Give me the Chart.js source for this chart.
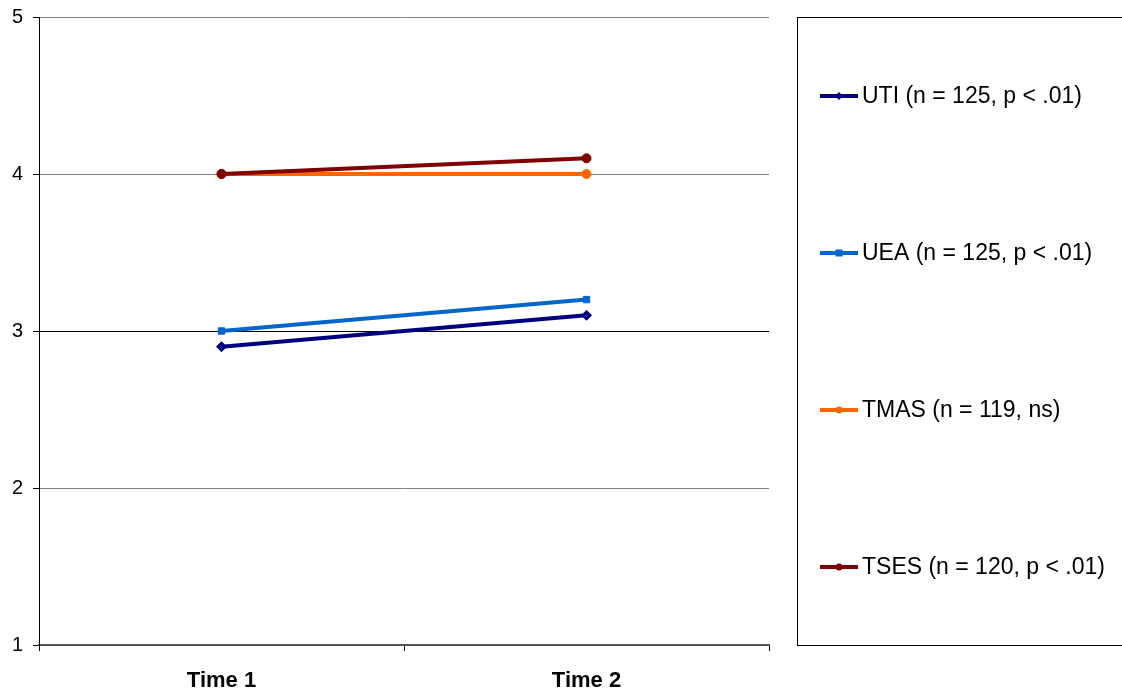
<!DOCTYPE html>
<html lang="en">
<head>
    <meta charset="UTF-8">
    <title>Scores Time 1 vs Time 2</title>
    <script src="https://cdn.jsdelivr.net/npm/chart.js"></script>
    <style>
        body {
            margin: 0;
            background: #ffffff;
        }
        #wrap {
            width: 1122px;
            height: 691px;
        }
    </style>
</head>
<body>
    <div id="wrap"><canvas id="chart"></canvas></div>

    <script>
        const categories = ['Time 1', 'Time 2'];
        const seriesNames = ['UTI (n = 125, p < .01)', 'UEA (n = 125, p < .01)', 'TMAS (n = 119, ns)', 'TSES (n = 120, p < .01)'];
        const utiValues = [2.9, 3.1];
        const ueaValues = [3.0, 3.2];
        const tmasValues = [4.0, 4.0];
        const tsesValues = [4.0, 4.1];
        const yTicks = [1, 2, 3, 4, 5];

        const colors = ['#000080', '#0066CC', '#FF6600', '#800000'];
        const markers = ['rectRot', 'rect', 'circle', 'circle'];
        const allValues = [utiValues, ueaValues, tmasValues, tsesValues];
        const fontFamily = 'Arial, "Liberation Sans", sans-serif';

        // later series sit on top, like the original
        const datasets = seriesNames.map((name, i) => ({
            label: name,
            data: allValues[i],
            order: seriesNames.length - 1 - i,
            borderColor: colors[i],
            backgroundColor: colors[i],
            borderWidth: 4,
            pointStyle: markers[i],
            pointRadius: markers[i] === 'rectRot' ? 5 : 4.5,
            pointBorderWidth: 1,
            tension: 0
        }));

        // legend drawn as a boxed column on the right
        const boxLegend = {
            id: 'boxLegend',
            afterDraw(chart) {
                const ctx = chart.ctx;
                const top = 17, bottom = 645, left = 797;
                const list = seriesNames.map((name, i) => ({ label: name, color: colors[i], style: markers[i] }));
                ctx.save();
                ctx.strokeStyle = '#000000';
                ctx.lineWidth = 1;
                ctx.strokeRect(left + 0.5, top + 0.5, 400, bottom - top);
                const rowH = (bottom - top) / list.length;
                list.forEach((item, i) => {
                    const y = Math.round(top + rowH * (i + 0.5));
                    ctx.strokeStyle = item.color;
                    ctx.lineWidth = 4;
                    ctx.beginPath();
                    ctx.moveTo(820, y);
                    ctx.lineTo(858, y);
                    ctx.stroke();
                    ctx.fillStyle = item.color;
                    ctx.lineWidth = 1;
                    ctx.beginPath();
                    if (item.style === 'rectRot') {
                        ctx.moveTo(839, y - 4); ctx.lineTo(843, y); ctx.lineTo(839, y + 4); ctx.lineTo(835, y);
                    } else if (item.style === 'rect') {
                        ctx.rect(835.5, y - 3.5, 7, 7);
                    } else {
                        ctx.arc(839, y, 3.5, 0, Math.PI * 2);
                    }
                    ctx.closePath();
                    ctx.fill();
                    ctx.fillStyle = '#000000';
                    ctx.font = '23px ' + fontFamily;
                    ctx.textBaseline = 'middle';
                    ctx.textAlign = 'left';
                    ctx.fillText(item.label, 862, y + 1);
                });
                ctx.restore();
            }
        };

        new Chart(document.getElementById('chart').getContext('2d'), {
            type: 'line',
            data: { labels: categories, datasets: datasets },
            options: {
                responsive: true,
                maintainAspectRatio: false,
                animation: false,
                layout: { padding: { top: 17, right: 353, left: 0, bottom: 0 } },
                plugins: {
                    legend: { display: false },
                    tooltip: { enabled: false }
                },
                scales: {
                    x: {
                        offset: true,
                        afterFit: (s) => { s.height = 46; s.paddingLeft = 0; s.paddingRight = 0; },
                        grid: {
                            offset: true,
                            drawOnChartArea: true,
                            color: (c) => c.index === categories.length ? '#808080' : 'rgba(0,0,0,0)',
                            tickColor: '#000000',
                            tickLength: 6
                        },
                        border: { color: '#555555', width: 2 },
                        ticks: {
                            color: '#000000',
                            padding: 17,
                            font: { family: fontFamily, size: 22, weight: 'bold' }
                        }
                    },
                    y: {
                        min: 1,
                        max: 5,
                        afterFit: (s) => { s.width = 39; s.paddingTop = 0; s.paddingBottom = 0; },
                        afterBuildTicks: (s) => { s.ticks = yTicks.map(v => ({ value: v })); },
                        grid: {
                            color: (c) => c.tick && c.tick.value === 3 ? '#000000' : '#808080',
                            tickColor: '#000000',
                            tickLength: 6
                        },
                        border: { color: '#000000', width: 1 },
                        ticks: {
                            color: '#000000',
                            padding: 10,
                            font: { family: fontFamily, size: 20 }
                        }
                    }
                }
            },
            plugins: [boxLegend]
        });
    </script>
</body>
</html>
